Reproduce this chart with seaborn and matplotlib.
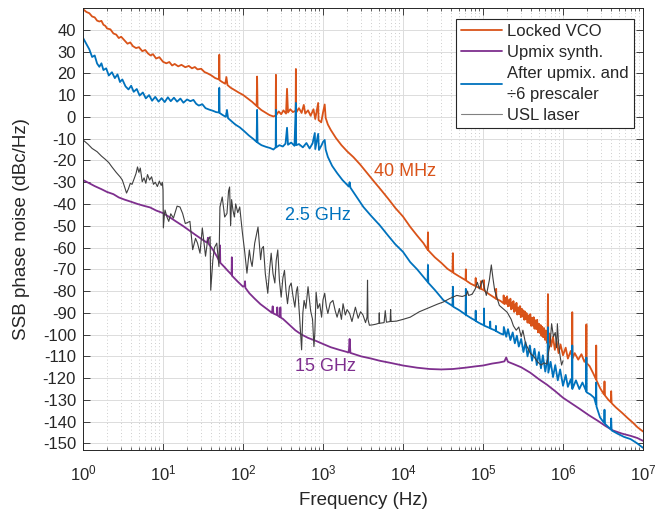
import seaborn as sns
import numpy as np
import pandas as pd
import matplotlib.pyplot as plt
from matplotlib.ticker import LogLocator, NullFormatter

# Locked VCO (40 MHz)
vco_f = [1, 1.1, 1.2, 1.3, 1.4, 1.5, 1.6, 1.7, 1.8, 1.9, 2.0, 2.2, 2.4, 2.6, 2.8, 3.0, 3.3, 3.6, 3.9, 4.2,
         4.6, 5.0, 5.5, 6.0, 6.5, 7.0, 7.5, 8.2, 9.0, 10, 11, 12, 13, 14, 15.5, 17, 19, 21, 23, 25,
         27, 30, 33, 36, 40, 45, 50, 50.5, 51, 55, 60, 62, 64, 70, 80, 90, 100, 115, 130, 148,
         150, 152, 170, 190, 215, 240, 256, 258, 260, 280, 300, 320, 345, 355, 365, 390, 420, 455, 458, 462,
         500, 540, 575, 600, 650, 700, 760, 800, 870, 880, 950, 1000, 1050, 1080, 1150, 1250, 1450, 1700, 2000, 2400,
         2900, 3500, 4300, 5300, 6500, 8000, 10000, 12300, 15000, 18000, 20300, 20500, 20700, 25000, 30000, 36000,
         41500, 42000, 42500, 50000, 60500, 61000, 61500, 70000, 80500, 81000, 81500, 93500, 94000, 94500,
         102500, 103000, 103500, 120000, 145000, 146000, 147000, 165000, 180000, 181000, 185000, 190000, 195000, 200000,
         205000, 210000, 215000, 220000, 225000, 230000, 235000, 240000, 245000, 250000, 256000, 262000, 268000,
         275000, 282000, 290000, 297000, 305000, 312000, 320000, 328000, 335000, 343000, 350000, 360000, 370000,
         380000, 390000, 400000, 410000, 420000, 430000, 440000, 450000, 462000, 475000, 487000, 500000, 512000,
         525000, 537000, 550000, 565000, 580000, 595000, 610000, 625000, 640000, 648000, 655000,
         680000, 710000, 750000, 790000, 830000, 880000, 930000, 1000000, 1080000, 1150000, 1250000, 1300000,
         1305000, 1310000, 1400000, 1550000, 1700000, 1850000, 1950000, 1960000, 1970000, 2150000, 2400000,
         2580000, 2600000, 2620000, 2900000, 3250000, 3300000, 3350000, 3700000, 3950000, 4000000, 4050000,
         4600000, 5500000, 6500000, 7500000, 8500000, 10000000]
vco_db = [49.5, 48.2, 47.6, 46.1, 45.7, 44.2, 43.8, 44.1, 42.3, 41.8, 40.6, 40.2, 38.3, 37.8, 36.2, 36.8, 35.1, 33.6, 34.2, 32.5,
          31.6, 32.0, 30.2, 30.7, 29.1, 28.2, 28.8, 26.8, 27.4, 25.3, 24.6, 25.2, 23.6, 24.3, 23.2, 23.9, 22.8, 23.4, 22.3, 22.9,
          21.8, 22.1, 20.6, 20.0, 19.1, 17.8, 17.2, 28.5, 16.8, 16.0, 15.2, 18.3, 14.6, 13.4, 12.1, 11.0, 10.1, 8.4, 6.9, 5.0,
          18.5, 4.6, 3.1, 2.0, 0.8, 0.2, 0.6, 19.3, 0.8, 2.5, 1.2, 3.0, 1.5, 12.9, 2.0, 3.5, 2.2, 2.8, 22.0, 2.0,
          4.0, 1.8, 5.5, 1.5, 3.0, 0.5, 3.5, -1.0, 6.4, -1.5, -2.5, 2.0, 5.7, -0.5, -3.5, -6.0, -9.7, -13.0, -15.8, -18.5,
          -21.8, -25.5, -29.5, -33.5, -37.5, -41.8, -45.8, -50.5, -54.5, -58.0, -61.0, -53.0, -61.3, -64.5, -67.0, -69.8,
          -71.3, -62.6, -71.6, -73.2, -75.0, -70.0, -75.2, -76.6, -77.7, -74.0, -77.9, -78.8, -75.5, -79.0,
          -79.6, -75.0, -79.8, -81.5, -83.5, -79.0, -83.6, -84.5, -85.6, -82.0, -86.0, -83.1, -85.9, -82.4,
          -87.0, -84.2, -86.8, -83.5, -88.4, -85.3, -88.0, -84.6, -89.6, -86.2, -89.1, -85.4, -90.8,
          -87.5, -90.6, -86.9, -92.0, -88.1, -91.7, -88.9, -93.2, -89.4, -93.0, -90.1, -94.5, -91.2,
          -94.8, -90.6, -96.0, -92.3, -95.9, -92.0, -97.3, -93.4, -97.5, -93.2, -99.0, -95.0, -99.2,
          -95.6, -100.6, -96.4, -101.2, -97.0, -102.4, -98.1, -103.0, -104.0, -81.4, -104.5,
          -99.5, -105.5, -101.0, -107.0, -103.0, -108.5, -104.5, -109.5, -106.0, -111.0, -107.5, -110.5,
          -89.7, -111.0, -108.5, -111.5, -109.0, -112.5, -111.0, -95.3, -113.0, -114.5, -118.0,
          -120.5, -105.0, -121.0, -124.5, -127.5, -121.5, -128.0, -130.0, -131.0, -126.0, -131.5,
          -133.5, -136.0, -138.5, -140.5, -142.5, -144.5]

# Upmix synth. (15 GHz)
syn_f = [1, 1.2, 1.4, 1.7, 2.0, 2.4, 2.8, 3.3, 4.0, 4.8, 5.7, 6.9, 8.2, 10, 12, 14.5, 17.6, 21, 25, 30,
         35.5, 36.5, 37.5, 42, 47, 51, 51.5, 52, 58, 65, 72, 72.5, 73, 85, 100, 105, 106, 107, 120, 140,
         165, 200, 230, 235, 240, 265, 268, 272, 290, 293, 297, 316, 380, 450, 540, 650, 830, 1000, 1250, 1600,
         2100, 2150, 2200, 3000, 4000, 5100, 7000, 10000, 15000, 21500, 30000, 42000, 60000, 80000, 100000,
         130000, 160000, 185000, 195000, 205000, 240000, 300000, 390000, 500000, 630000, 800000, 1000000,
         1300000, 1600000, 2100000, 2700000, 3400000, 4200000, 5500000, 7000000, 8500000, 10000000]
syn_db = [-29.0, -30.5, -31.8, -33.2, -34.5, -35.5, -37.0, -38.0, -39.0, -40.0, -40.8, -41.6, -43.0, -44.2, -46.0, -48.0, -50.0, -52.0, -54.0, -56.0,
          -57.8, -55.5, -58.5, -61.0, -64.0, -66.5, -59.0, -67.0, -68.8, -70.8, -72.5, -64.5, -73.0, -75.5, -78.0, -77.5, -75.5, -78.5, -81.0, -83.5,
          -86.0, -88.3, -90.0, -87.0, -90.3, -91.0, -87.5, -91.3, -92.0, -87.5, -92.2, -92.8, -95.5, -98.0, -100.0, -101.5, -103.0, -104.3, -105.8, -107.0,
          -108.2, -102.0, -108.4, -110.0, -111.0, -112.0, -113.0, -114.2, -115.2, -115.8, -116.0, -115.8, -115.2, -114.6, -114.2,
          -113.3, -112.8, -112.3, -110.5, -112.5, -113.5, -115.0, -117.5, -120.5, -123.0, -126.0, -129.0,
          -131.8, -134.0, -137.0, -139.5, -142.0, -144.0, -145.5, -146.5, -147.5, -148.8]

# After upmix. and /6 prescaler (2.5 GHz)
up_f = [1, 1.1, 1.2, 1.3, 1.4, 1.5, 1.6, 1.7, 1.8, 1.95, 2.1, 2.3, 2.5, 2.7, 2.9, 3.1, 3.4, 3.7, 4.0, 4.3,
        4.7, 5.1, 5.6, 6.1, 6.7, 7.3, 8.0, 8.8, 9.6, 10.5, 11.5, 12.5, 13.7, 15, 16.5, 18, 20, 22, 24, 26,
        28, 31, 34, 38, 42, 46, 50, 50.5, 51, 56, 61, 63, 65, 72, 80, 91, 103, 118, 133, 148,
        150, 152, 170, 195, 218, 240, 256, 258, 260, 285, 315, 340, 355, 365, 400, 440, 458, 462, 500, 560,
        620, 680, 740, 790, 800, 870, 890, 960, 1000, 1050, 1080, 1150, 1300, 1500, 1750, 2100, 2150, 2200, 2600, 3200,
        4000, 5100, 6500, 8000, 10000, 12300, 15000, 18000, 20300, 20500, 20700, 25000, 32000, 41500, 42000, 42500,
        50000, 60500, 61000, 61500, 70000, 80500, 81000, 81500, 93000, 102500, 103000, 103500, 122000, 123000, 124000,
        144000, 145000, 146000, 165000, 180000, 182000, 195000, 205000, 220000, 235000, 250000, 265000, 280000,
        300000, 320000, 340000, 360000, 385000, 410000, 440000, 470000, 500000, 530000, 560000, 600000, 640000,
        648000, 655000, 700000, 750000, 800000, 860000, 920000, 1000000, 1080000, 1150000, 1250000, 1300000,
        1305000, 1310000, 1450000, 1600000, 1750000, 1950000, 1960000, 1970000, 2200000, 2450000, 2580000,
        2600000, 2620000, 2900000, 3250000, 3300000, 3350000, 3700000, 3950000, 4000000, 4050000, 4800000,
        5800000, 7000000, 8500000, 10000000]
up_db = [36.3, 33.5, 31.0, 27.5, 28.2, 24.5, 23.0, 24.6, 21.5, 22.3, 19.0, 20.5, 17.8, 19.5, 16.0, 17.2, 14.0, 12.6, 14.3, 11.5,
         12.8, 9.8, 11.2, 8.5, 10.0, 7.4, 9.2, 7.0, 8.6, 6.8, 9.0, 7.2, 8.8, 7.0, 8.4, 6.5, 8.0, 7.2, 7.8, 6.0,
         5.2, 5.8, 4.0, 3.3, 2.8, 2.2, 2.0, 13.3, 1.8, 0.8, 0.0, 3.2, -0.6, -2.0, -3.5, -4.8, -6.5, -8.5, -10.0, -11.5,
         3.2, -11.8, -13.0, -13.8, -14.3, -15.0, -14.0, 3.2, -14.0, -13.0, -13.6, -12.3, -5.0, -12.8, -11.8, -13.3, 6.4, -13.0, -12.5, -14.0,
         -12.0, -14.5, -12.2, -7.4, -14.8, -7.8, -15.2, -13.0, -11.5, -10.6, -15.0, -18.4, -22.5, -25.8, -29.0, -32.0, -30.0, -32.5, -36.5, -41.4,
         -45.5, -49.7, -54.5, -58.5, -62.0, -66.7, -70.0, -73.5, -75.8, -68.0, -76.2, -79.5, -84.2, -86.8, -78.0, -87.2,
         -88.7, -90.8, -79.0, -91.0, -92.3, -93.6, -89.0, -93.8, -95.0, -95.7, -88.0, -95.9, -97.0, -94.0, -97.2,
         -98.2, -96.0, -98.4, -99.5, -100.0, -96.5, -101.0, -97.5, -102.5, -99.0, -104.0, -100.5, -105.5,
         -102.0, -108.0, -103.5, -110.0, -105.0, -112.0, -106.5, -114.0, -108.0, -115.5, -109.5, -117.0, -111.0,
         -96.6, -117.5, -112.5, -119.5, -114.0, -121.0, -116.0, -123.5, -118.5, -124.0, -120.5, -124.5,
         -105.0, -125.0, -121.0, -125.0, -122.0, -126.0, -110.5, -126.5, -127.5, -129.0, -132.0,
         -122.0, -133.0, -138.0, -140.5, -134.5, -141.0, -142.5, -143.5, -138.5, -144.0, -145.5,
         -147.0, -148.0, -150.0, -152.0]

# USL laser
usl_f = [1, 1.15, 1.3, 1.5, 1.7, 1.9, 2.1, 2.3, 2.6, 2.9, 3.1, 3.3, 3.5, 3.7, 3.9, 4.1, 4.3, 4.6, 4.8, 5.0,
         5.2, 5.5, 5.8, 6.1, 6.4, 6.8, 7.2, 7.6, 8.0, 8.5, 9.0, 9.5, 9.8, 10.0, 10.1, 10.4, 10.6, 11.2, 11.8, 12.5,
         13.5, 15, 16.3, 17.6, 19, 21.7, 23.5, 25.5, 27, 29, 31, 34, 36, 38.8, 39.5, 42, 44, 47, 50, 51.5,
         55, 59, 63, 66, 68, 70, 72, 75, 78, 81, 86, 91, 98, 105, 112, 120, 125, 130, 140, 154,
         160, 166, 172, 180, 190, 204, 215, 225, 237, 250, 260, 272, 285, 300, 315, 330, 345, 360, 380, 400,
         420, 445, 465, 480, 510, 540, 560, 580, 610, 650, 680, 700, 740, 770, 790, 820, 860, 910, 960, 1000,
         1050, 1100, 1150, 1230, 1330, 1420, 1500, 1600, 1700, 1780, 1900, 2000, 2150, 2300, 2540, 2750, 2950, 3160, 3400, 3550,
         3600, 3650, 3800, 4200, 4600, 5000, 5050, 5100, 5800, 6000, 6200, 6900, 7000, 7100, 8300, 10000, 12300, 16000, 21500, 27000,
         32000, 38000, 47000, 55000, 62000, 64000, 66000, 73000, 80000, 85000, 90000, 98000, 104000, 110000, 120000, 127000,
         133000, 140000, 160000, 200000, 225000, 240000, 260000, 280000, 300000, 315000, 340000, 390000, 430000, 480000,
         530000, 580000, 630000, 660000, 690000, 720000, 760000, 800000, 830000, 850000, 880000, 920000, 960000, 1000000]
usl_db = [-10.6, -12.5, -14.5, -16.0, -18.0, -19.5, -21.0, -23.0, -25.5, -27.5, -29.0, -32.0, -35.0, -33.0, -30.5, -31.0, -29.0, -26.0, -23.0, -25.5,
          -23.5, -29.8, -28.0, -30.5, -26.5, -29.0, -27.5, -31.0, -30.0, -32.0, -29.5, -31.5, -30.0, -33.5, -51.0, -45.0, -42.8, -46.0, -48.0, -44.5,
          -46.5, -41.0, -41.4, -44.4, -49.0, -48.0, -61.0, -55.8, -58.0, -62.6, -51.0, -64.0, -57.0, -55.0, -79.6, -65.6, -60.0, -58.0, -68.7, -41.4,
          -36.8, -46.0, -44.4, -34.0, -32.2, -50.0, -38.0, -43.0, -46.0, -40.0, -44.0, -41.4, -52.8, -62.0, -71.8, -61.1, -66.0, -68.7, -58.0, -50.6,
          -58.0, -65.6, -60.5, -59.5, -72.0, -81.0, -70.0, -62.6, -72.0, -76.3, -66.0, -61.1, -75.0, -82.8, -74.0, -70.5, -80.0, -85.8, -78.0, -76.3,
          -82.0, -87.4, -80.0, -78.0, -92.0, -107.0, -90.0, -84.3, -88.0, -78.0, -85.0, -89.0, -93.0, -105.5, -99.4, -80.5, -88.0, -85.8, -92.0, -84.0,
          -81.0, -87.0, -90.3, -85.5, -84.3, -89.0, -92.0, -88.0, -93.0, -85.8, -91.0, -88.5, -90.3, -94.0, -87.4, -92.5, -89.5, -91.0, -94.5, -92.0,
          -75.0, -93.0, -95.7, -95.5, -95.2, -94.8, -90.0, -94.8, -94.5, -89.0, -94.3, -94.0, -88.5, -94.0, -93.8, -93.0, -92.0, -89.5, -87.5, -86.0,
          -85.0, -83.5, -82.0, -82.5, -81.8, -80.0, -82.0, -81.5, -79.0, -76.0, -79.0, -75.0, -78.5, -82.0, -75.0, -68.0,
          -74.0, -79.8, -86.6, -89.7, -93.0, -96.0, -98.0, -96.5, -101.0, -98.0, -104.0, -108.6, -110.0, -112.5,
          -114.0, -113.0, -113.5, -108.0, -104.0, -95.0, -101.0, -99.0, -106.0, -95.0, -104.0, -110.0, -114.0, -112.0]

labels = ["Locked VCO", "Upmix synth.", "After upmix. and\n\u00f76 prescaler", "USL laser"]
colors = ["#D95319", "#7E2F8E", "#0072BD", "#404040"]
decades = [1e0, 1e1, 1e2, 1e3, 1e4, 1e5, 1e6, 1e7]
yticks = list(range(-150, 41, 10))

sns.set_theme(style="ticks")
plt.rcParams['font.family'] = ['Liberation Sans', 'DejaVu Sans']
plt.rcParams['axes.unicode_minus'] = False

fig, ax = plt.subplots(figsize=(6.71, 5.13), dpi=100)
fig.subplots_adjust(left=0.1237, right=0.9583, top=0.9844, bottom=0.1228)

series = [(vco_f, vco_db, 1.3), (syn_f, syn_db, 1.3), (up_f, up_db, 1.3), (usl_f, usl_db, 0.8)]
for (f, db, lw), lab, c in zip(series, labels, colors):
    df = pd.DataFrame({"f": f, "db": db})
    sns.lineplot(data=df, x="f", y="db", sort=False, estimator=None, color=c, lw=lw, label=lab, ax=ax)

ax.set_xscale("log")
ax.set_xlim(1, 1e7)
ax.set_ylim(-153, 50)
ax.set_xticks(decades)
ax.xaxis.set_minor_locator(LogLocator(base=10, subs=np.arange(2, 10), numticks=100))
ax.xaxis.set_minor_formatter(NullFormatter())
ax.set_yticks(yticks)

ax.grid(which="major", color="#dcdcdc", lw=0.7, ls="-")
ax.grid(which="minor", axis="x", color="#bdbdbd", lw=0.6, ls=(0, (1, 3)))
ax.set_axisbelow(True)

ax.tick_params(which="both", direction="in", top=True, right=True, colors="#262626", labelsize=12)
ax.tick_params(which="major", length=5, width=0.6)
ax.tick_params(which="minor", length=2.5, width=0.5)
ax.tick_params(axis="x", which="major", pad=10)
ax.tick_params(axis="y", which="major", pad=5)
for s in ax.spines.values():
    s.set_color("#262626")
    s.set_linewidth(0.7)

ax.set_xlabel("Frequency (Hz)", fontsize=13.5, color="#262626", labelpad=6)
ax.set_ylabel("SSB phase noise (dBc/Hz)", fontsize=13.5, color="#262626", labelpad=9)

ax.text(1.06e4, -25.3, "40 MHz", color=colors[0], fontsize=13, ha="center", va="center")
ax.text(866, -45.1, "2.5 GHz", color=colors[2], fontsize=13, ha="center", va="center")
ax.text(1060, -114.5, "15 GHz", color=colors[1], fontsize=13, ha="center", va="center")

leg = ax.legend(loc="upper right", bbox_to_anchor=(0.984, 0.975), borderaxespad=0, fontsize=12,
                frameon=True, fancybox=False, framealpha=1, edgecolor="#262626",
                handlelength=2.5, handletextpad=0.3, labelspacing=0.35, borderpad=0.3)
leg.get_frame().set_linewidth(0.8)
leg.get_lines()[3].set_color("#808080")
for t in leg.get_texts():
    t.set_linespacing(1.5)

fig.savefig("out.png", dpi=100)
